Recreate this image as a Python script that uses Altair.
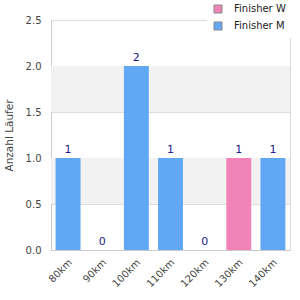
import altair as alt
import pandas as pd

categories = ["80km", "90km", "100km", "110km", "120km", "130km", "140km"]
finisher_w = [0, 0, 0, 0, 0, 1, 0]
finisher_m = [1, 0, 2, 1, 0, 0, 1]
series_names = ["Finisher W", "Finisher M"]
series_colors = ["#f283b9", "#60a8f4"]
band_start = [0.5, 1.5]
band_end = [1.0, 2.0]

rows = []
for c, w, m in zip(categories, finisher_w, finisher_m):
    rows.append({"cat": c, "serie": "Finisher W", "val": w})
    rows.append({"cat": c, "serie": "Finisher M", "val": m})
df = pd.DataFrame(rows)
totals = pd.DataFrame({"cat": categories,
                       "total": [w + m for w, m in zip(finisher_w, finisher_m)]})
bands = pd.DataFrame({"y0": band_start, "y1": band_end})

font = "DejaVu Sans"
yscale = alt.Scale(domain=[0, 2.5], nice=False)
xsort = categories

band_layer = alt.Chart(bands).mark_rect(color="#f2f2f2").encode(
    y=alt.Y("y0:Q", scale=yscale),
    y2="y1:Q",
    x=alt.value(0),
    x2=alt.value(239),
)

bars = alt.Chart(df).mark_bar().encode(
    x=alt.X("cat:N", sort=xsort, scale=alt.Scale(paddingInner=0.27, paddingOuter=0.135),
            axis=alt.Axis(title=None, labelAngle=-45, ticks=False, labelAlign="right",
                          labelBaseline="top", labelPadding=7, labelOffset=-1,
                          domainColor="#cccccc",
                          labelColor="#444444", labelFontSize=10, labelFont=font)),
    y=alt.Y("val:Q", stack="zero", scale=yscale,
            axis=alt.Axis(title="Anzahl Läufer", values=[0, 0.5, 1, 1.5, 2, 2.5], format=".1f",
                          ticks=False, labelPadding=10, gridColor="#dddddd", domainColor="#cccccc",
                          labelColor="#444444", labelFontSize=10, labelFont=font,
                          titleColor="#444444", titleFontSize=10.5, titleFont=font,
                          titleFontWeight="normal", titlePadding=11)),
    color=alt.Color("serie:N", sort=series_names,
                    scale=alt.Scale(domain=series_names, range=series_colors),
                    legend=alt.Legend(title=None, orient="none", legendX=156, legendY=-22,
                                      symbolType="square", symbolSize=64,
                                      symbolStrokeColor="#888888", symbolStrokeWidth=1,
                                      labelFont=font, labelFontSize=10, labelColor="#222222",
                                      fillColor="white", padding=6, rowPadding=5,
                                      labelOffset=11, symbolOffset=0)),
)

labels = alt.Chart(totals).mark_text(baseline="bottom", dy=-3, color="#1c1c8c",
                                     fontSize=11, font=font).encode(
    x=alt.X("cat:N", sort=xsort),
    y=alt.Y("total:Q", scale=yscale),
    text="total:Q",
)

chart = alt.layer(band_layer, bars, labels).properties(
    width=239, height=230,
    autosize=alt.AutoSizeParams(type="none"),
    padding={"left": 51, "top": 20, "right": 10, "bottom": 50},
).configure_view(stroke="#cccccc").configure(background="white")

chart.save("out.html", embed_options={"renderer": "svg", "actions": False})
